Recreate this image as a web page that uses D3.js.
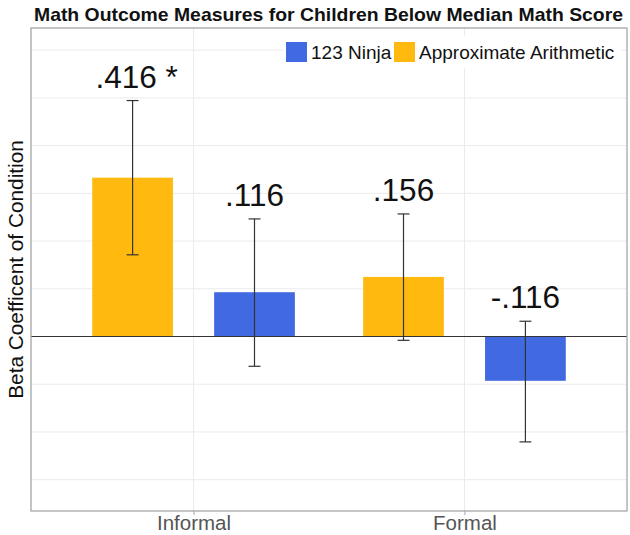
<!DOCTYPE html>
<html>
<head>
<meta charset="utf-8">
<script src="https://cdn.jsdelivr.net/npm/d3@7"></script>
<style>
  body { margin: 0; background: white; }
  text { font-family: "Liberation Sans", Arial, Helvetica, sans-serif; }
</style>
</head>
<body>
<svg id="chart" width="630" height="535"></svg>
<script>
// categories on the x axis
const categories = ["Informal", "Formal"];

// series names, in legend order
const seriesNames = ["123 Ninja", "Approximate Arithmetic"];

// Approximate Arithmetic (left bar of each group)
const approxValues = [0.416, 0.156];
const approxLow = [0.214, -0.010];
const approxHigh = [0.618, 0.321];
const approxLabels = [".416 *", ".156"];

// 123 Ninja (right bar of each group)
const ninjaValues = [0.116, -0.116];
const ninjaLow = [-0.078, -0.276];
const ninjaHigh = [0.308, 0.040];
const ninjaLabels = [".116", "-.116"];

// gridline positions on the y axis (no tick labels shown)
const yGridTicks = [-0.375, -0.25, -0.125, 0, 0.125, 0.25, 0.375, 0.5, 0.625, 0.75];

/* Build the chart: panel, grid, bars, error bars, labels, legend. */
function createChart() {
    const svg = d3.select("#chart");
    const panel = { left: 31, right: 627, top: 28, bottom: 511 };
    const colors = { "123 Ninja": "#4169E1", "Approximate Arithmetic": "#FFB90F" };

    const xScale = d3.scaleLinear()
        .domain([0.4, 2.6])
        .range([panel.left, panel.right]);

    const yScale = d3.scaleLinear()
        .domain([-0.457, 0.808])
        .range([panel.bottom, panel.top]);

    const dodge = 0.225;
    const barWidth = 0.298;
    const capWidth = 0.044;

    // rows: one per bar
    const rows = [];
    categories.forEach((cat, i) => {
        rows.push({ cat: cat, pos: i + 1 - dodge, series: "Approximate Arithmetic",
            value: approxValues[i], low: approxLow[i], high: approxHigh[i], label: approxLabels[i] });
        rows.push({ cat: cat, pos: i + 1 + dodge, series: "123 Ninja",
            value: ninjaValues[i], low: ninjaLow[i], high: ninjaHigh[i], label: ninjaLabels[i] });
    });

    // panel background
    svg.append("rect")
        .attr("x", panel.left)
        .attr("y", panel.top)
        .attr("width", panel.right - panel.left)
        .attr("height", panel.bottom - panel.top)
        .style("fill", "white");

    // horizontal gridlines
    svg.selectAll(".ygrid")
        .data(yGridTicks.filter(d => d !== 0))
        .enter().append("line")
        .attr("class", "ygrid")
        .attr("x1", panel.left)
        .attr("x2", panel.right)
        .attr("y1", d => yScale(d))
        .attr("y2", d => yScale(d))
        .style("stroke", "#ebebeb")
        .style("stroke-width", 1);

    // vertical gridlines at categories
    svg.selectAll(".xgrid")
        .data(categories)
        .enter().append("line")
        .attr("class", "xgrid")
        .attr("x1", (d, i) => xScale(i + 1))
        .attr("x2", (d, i) => xScale(i + 1))
        .attr("y1", panel.top)
        .attr("y2", panel.bottom)
        .style("stroke", "#ebebeb")
        .style("stroke-width", 1);

    // bars
    svg.selectAll(".bar")
        .data(rows)
        .enter().append("rect")
        .attr("class", "bar")
        .attr("x", d => xScale(d.pos - barWidth / 2))
        .attr("width", d => xScale(d.pos + barWidth / 2) - xScale(d.pos - barWidth / 2))
        .attr("y", d => yScale(Math.max(0, d.value)))
        .attr("height", d => Math.abs(yScale(d.value) - yScale(0)))
        .style("fill", d => colors[d.series]);

    // zero line
    svg.append("line")
        .attr("x1", panel.left)
        .attr("x2", panel.right)
        .attr("y1", yScale(0))
        .attr("y2", yScale(0))
        .style("stroke", "#333")
        .style("stroke-width", 1.2);

    // error bars
    const err = svg.selectAll(".err")
        .data(rows)
        .enter().append("g")
        .attr("class", "err")
        .style("stroke", "#333")
        .style("stroke-width", 1.2);

    err.append("line")
        .attr("x1", d => xScale(d.pos))
        .attr("x2", d => xScale(d.pos))
        .attr("y1", d => yScale(d.low))
        .attr("y2", d => yScale(d.high));

    err.append("line")
        .attr("x1", d => xScale(d.pos - capWidth / 2))
        .attr("x2", d => xScale(d.pos + capWidth / 2))
        .attr("y1", d => yScale(d.low))
        .attr("y2", d => yScale(d.low));

    err.append("line")
        .attr("x1", d => xScale(d.pos - capWidth / 2))
        .attr("x2", d => xScale(d.pos + capWidth / 2))
        .attr("y1", d => yScale(d.high))
        .attr("y2", d => yScale(d.high));

    // value labels above error bars
    svg.selectAll(".vlabel")
        .data(rows)
        .enter().append("text")
        .attr("class", "vlabel")
        .attr("x", d => xScale(d.pos) + (d.label.endsWith("*") ? 4 : 0))
        .attr("y", d => yScale(d.high) - 13)
        .attr("text-anchor", "middle")
        .style("font-size", "31.5px")
        .style("fill", "#111")
        .text(d => d.label);

    // panel border
    svg.append("rect")
        .attr("x", panel.left)
        .attr("y", panel.top)
        .attr("width", panel.right - panel.left)
        .attr("height", panel.bottom - panel.top)
        .style("fill", "none")
        .style("stroke", "#a6a6a6")
        .style("stroke-width", 1.3);

    // x axis ticks and labels
    const xAxis = d3.axisBottom(d3.scalePoint().domain(categories).range([xScale(1), xScale(2)]))
        .tickSize(4)
        .tickPadding(2);

    const xg = svg.append("g")
        .attr("transform", `translate(0,${panel.bottom})`)
        .call(xAxis);
    xg.select(".domain").remove();
    xg.selectAll(".tick line").style("stroke", "#a6a6a6");
    xg.selectAll(".tick text")
        .attr("dy", null)
        .attr("y", 19)
        .style("font-family", "'Liberation Sans', Arial, sans-serif")
        .style("font-size", "20.5px")
        .style("fill", "#555");

    // y axis title
    svg.append("text")
        .attr("transform", `translate(23,${(panel.top + panel.bottom) / 2}) rotate(-90)`)
        .attr("text-anchor", "middle")
        .style("font-size", "20.8px")
        .style("fill", "#111")
        .text("Beta Coefficent of Condition");

    // title
    svg.append("text")
        .attr("x", 34)
        .attr("y", 21)
        .attr("textLength", 589)
        .attr("lengthAdjust", "spacingAndGlyphs")
        .style("font-size", "18.5px")
        .style("font-weight", "bold")
        .style("fill", "#111")
        .text("Math Outcome Measures for Children Below Median Math Score");

    // legend
    const legend = svg.append("g").attr("transform", "translate(283,36)");
    legend.append("rect")
        .attr("x", 0)
        .attr("y", 0)
        .attr("width", 338)
        .attr("height", 32)
        .style("fill", "white");

    const legendX = [3, 111];
    seriesNames.forEach((name, i) => {
        legend.append("rect")
            .attr("x", legendX[i])
            .attr("y", 6)
            .attr("width", 21)
            .attr("height", 20)
            .style("fill", colors[name]);
        legend.append("text")
            .attr("x", legendX[i] + 25)
            .attr("y", 23)
            .style("font-size", "19px")
            .style("fill", "#111")
            .text(name);
    });
}

createChart();
</script>
</body>
</html>
